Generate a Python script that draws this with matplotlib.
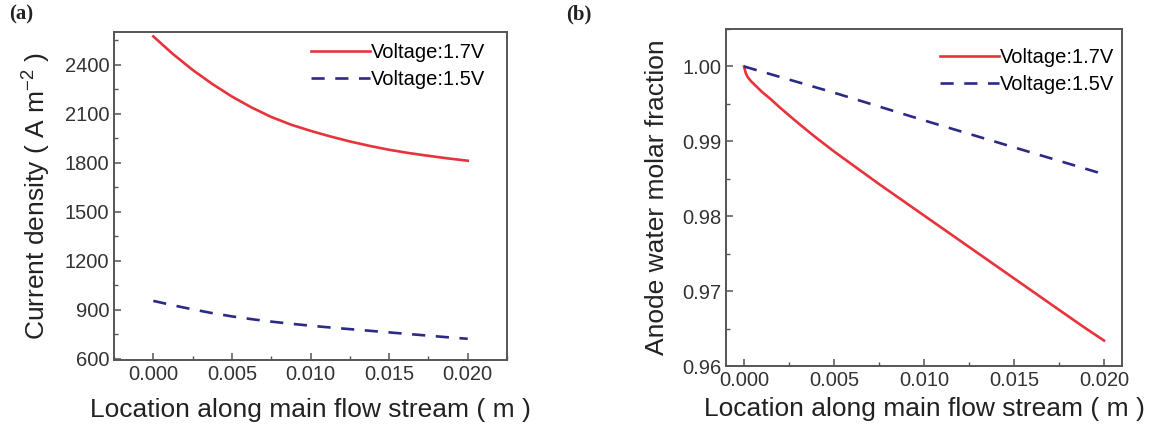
import matplotlib
matplotlib.use("Agg")
import matplotlib.pyplot as plt
from matplotlib.ticker import MultipleLocator, FormatStrFormatter

plt.rcParams['font.family'] = ['Liberation Sans', 'DejaVu Sans']
plt.rcParams['mathtext.fontset'] = 'custom'
plt.rcParams['mathtext.rm'] = 'Liberation Sans'
plt.rcParams['mathtext.it'] = 'Liberation Sans:italic'

# Panel (a): current density along the channel
xa = [0.0, 0.00125, 0.0025, 0.00375, 0.005, 0.00625, 0.0075, 0.00875, 0.010,
      0.01125, 0.0125, 0.01375, 0.015, 0.01625, 0.0175, 0.01875, 0.020]
cd_17 = [2573, 2465, 2368, 2282, 2205, 2138, 2080, 2033, 1995,
         1961, 1930, 1903, 1879, 1859, 1842, 1826, 1812]
cd_15 = [954, 927, 902, 879, 859, 842, 827, 814, 802,
         791, 781, 771, 761, 751, 741, 731, 722]

# Panel (b): anode water molar fraction
xb = [0.0, 0.0001, 0.0002, 0.0004, 0.0007, 0.001, 0.0015, 0.002, 0.003, 0.004,
      0.005, 0.0075, 0.010, 0.0125, 0.015, 0.0175, 0.019, 0.020]
wf_17 = [1.0000, 0.9991, 0.9986, 0.9980, 0.9973, 0.9966, 0.9956, 0.9945, 0.99245, 0.9905,
         0.98865, 0.9843, 0.9801, 0.9759, 0.9717, 0.9675, 0.9650, 0.9634]
xb2 = [0.0, 0.005, 0.010, 0.015, 0.020]
wf_15 = [1.0000, 0.9965, 0.9928, 0.9892, 0.9856]

labels = ['Voltage:1.7V', 'Voltage:1.5V']
red = '#e8323c'
blue = '#2b2b86'

W, H = 1149, 428
fig = plt.figure(figsize=(W / 100, H / 100), dpi=100)

def box(l, t, r, b):
    return [l / W, 1 - b / H, (r - l) / W, (b - t) / H]

axa = fig.add_axes(box(114, 32, 507, 360))
axb = fig.add_axes(box(726, 29, 1122, 366))

tick_fs = 14.5
lab_fs = 19
dash = (0, (5, 4))

def style(ax):
    ax.tick_params(which='both', direction='in', labelsize=tick_fs,
                   colors='#555555', labelcolor='#333333')
    ax.tick_params(which='major', length=5, width=1.1)
    ax.tick_params(which='minor', length=3, width=1.0)
    for s in ax.spines.values():
        s.set_linewidth(1.4)
        s.set_color('#555555')

axa.plot(xa, cd_17, color=red, lw=1.9, label=labels[0])
axa.plot(xa, cd_15, color=blue, lw=1.9, ls=dash, label=labels[1])
axa.set_xlim(-0.0025, 0.0225)
axa.set_ylim(592, 2600)
axa.xaxis.set_major_locator(MultipleLocator(0.005))
axa.xaxis.set_minor_locator(MultipleLocator(0.0025))
axa.yaxis.set_major_locator(MultipleLocator(300))
axa.yaxis.set_minor_locator(MultipleLocator(150))
axa.xaxis.set_major_formatter(FormatStrFormatter('%.3f'))
style(axa)
axa.set_xlabel('Location along main flow stream ( m )', fontsize=lab_fs, labelpad=10,
               color='#222222')
axa.set_ylabel(r'Current density ( A m$^{-2}$ )', fontsize=lab_fs, labelpad=8,
               color='#222222')
axa.legend(loc='upper right', bbox_to_anchor=(0.944, 0.966), frameon=False,
           fontsize=tick_fs, handlelength=2.9, handletextpad=0.05,
           borderaxespad=0, borderpad=0, labelspacing=0.4)

axb.plot(xb, wf_17, color=red, lw=1.9, label=labels[0])
axb.plot(xb2, wf_15, color=blue, lw=1.9, ls=dash, label=labels[1])
axb.set_xlim(-0.001, 0.021)
axb.set_ylim(0.96, 1.005)
axb.xaxis.set_major_locator(MultipleLocator(0.005))
axb.xaxis.set_minor_locator(MultipleLocator(0.0025))
axb.yaxis.set_major_locator(MultipleLocator(0.01))
axb.yaxis.set_minor_locator(MultipleLocator(0.005))
axb.xaxis.set_major_formatter(FormatStrFormatter('%.3f'))
axb.yaxis.set_major_formatter(FormatStrFormatter('%.2f'))
style(axb)
axb.set_xlabel('Location along main flow stream ( m )', fontsize=lab_fs, labelpad=5,
               color='#222222')
axb.set_ylabel('Anode water molar fraction', fontsize=lab_fs, labelpad=9,
               color='#222222')
axb.legend(loc='upper right', bbox_to_anchor=(0.98, 0.944), frameon=False,
           fontsize=tick_fs, handlelength=2.9, handletextpad=0.05,
           borderaxespad=0, borderpad=0, labelspacing=0.4)

fig.text(0.008, 0.965, '(a)', fontsize=15, fontweight='bold',
         family='Liberation Serif', va='center', color='#222222')
fig.text(0.4926, 0.965, '(b)', fontsize=15, fontweight='bold',
         family='Liberation Serif', va='center', color='#222222')

fig.savefig('out.png', dpi=100)
